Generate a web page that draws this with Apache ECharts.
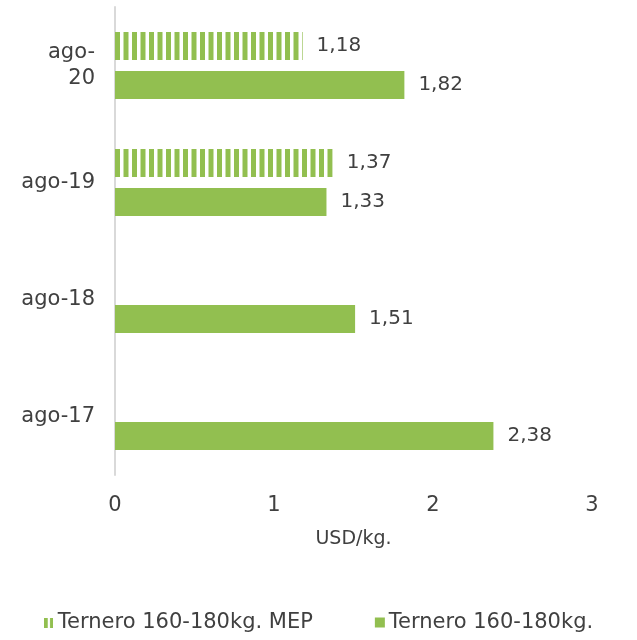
<!DOCTYPE html>
<html>
<head>
<meta charset="utf-8">
<script src="https://cdn.jsdelivr.net/npm/echarts@6/dist/echarts.min.js"></script>
<style>
  html, body { margin: 0; padding: 0; background: #fff; }
  #chart { width: 637px; height: 640px; }
</style>
</head>
<body>
<div id="chart"></div>
<script>
  // datos
  const categorias = ['ago-17', 'ago-18', 'ago-19', 'ago-20'];
  const ternero = [2.38, 1.51, 1.33, 1.82];
  const terneroMep = [null, null, 1.37, 1.18];
  const xTicks = [0, 1, 2, 3];

  const verde = '#92BF50';
  const gris = '#404040';
  const fuente = 'DejaVu Sans';

  // patron rayado vertical para la serie MEP (fase ajustada al eje en x=115)
  const rayas = document.createElement('canvas');
  rayas.width = 17;
  rayas.height = 10;
  const ctx = rayas.getContext('2d');
  ctx.fillStyle = verde;
  ctx.fillRect(13, 0, 4, 10);
  ctx.fillRect(0, 0, 1, 10);
  ctx.fillRect(4.5, 0, 5, 10);

  // icono de leyenda con dos rayas
  const icono = document.createElement('canvas');
  icono.width = 8;
  icono.height = 9;
  const ictx = icono.getContext('2d');
  ictx.fillStyle = verde;
  ictx.fillRect(0, 0, 3, 9);
  ictx.fillRect(5, 0, 3, 9);

  const myChart = echarts.init(document.getElementById('chart'));
  const etiqueta = {
    show: true,
    position: 'right',
    distance: 14,
    color: gris,
    fontFamily: fuente,
    fontSize: 20,
    formatter(p) {
      return p.value == null ? '' : p.value.toFixed(2).replace('.', ',');
    },
  };
  myChart.setOption({
    animation: false,
    grid: {
      top: 7,
      bottom: 165,
      left: 115,
      right: 45,
    },
    legend: {
      bottom: 2,
      left: 'center',
      itemWidth: 10,
      itemHeight: 10,
      itemGap: 62,
      data: [
        { name: 'Ternero 160-180kg. MEP', icon: 'image://' + icono.toDataURL() },
        { name: 'Ternero 160-180kg.', icon: 'rect' },
      ],
      textStyle: {
        color: gris,
        fontFamily: fuente,
        fontSize: 21,
        padding: [0, 0, 0, -1],
      },
    },
    xAxis: {
      type: 'value',
      min: xTicks[0],
      max: xTicks[xTicks.length - 1],
      interval: 1,
      name: 'USD/kg.',
      nameLocation: 'middle',
      nameGap: 55,
      nameTextStyle: {
        color: gris,
        fontFamily: fuente,
        fontSize: 19,
      },
      axisLine: { show: false },
      axisTick: { show: false },
      splitLine: { show: false },
      axisLabel: {
        margin: 20,
        color: gris,
        fontFamily: fuente,
        fontSize: 21,
      },
    },
    yAxis: {
      type: 'category',
      data: categorias,
      axisTick: { show: false },
      axisLine: { lineStyle: { color: '#d9d9d9', width: 2 } },
      axisLabel: {
        margin: 20,
        color: gris,
        fontFamily: fuente,
        fontSize: 21,
        lineHeight: 26,
        formatter(v) {
          return v === 'ago-20' ? 'ago-\n20' : v;
        },
      },
    },
    series: [
      {
        name: 'Ternero 160-180kg. MEP',
        type: 'bar',
        data: terneroMep,
        barWidth: 28,
        barGap: '40%',
        itemStyle: { color: { image: rayas, repeat: 'repeat' } },
        label: etiqueta,
      },
      {
        name: 'Ternero 160-180kg.',
        type: 'bar',
        data: ternero,
        barWidth: 28,
        barGap: '40%',
        itemStyle: { color: verde },
        label: etiqueta,
      },
    ],
  });
</script>
</body>
</html>
